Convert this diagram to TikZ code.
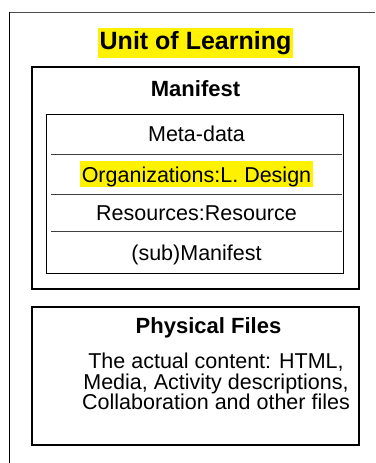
\documentclass[tikz,border=0pt]{standalone}
\usepackage{fontspec}
\setmainfont{Liberation Sans}
\usetikzlibrary{positioning}

\newcommand{\hilite}[1]{{\setlength{\fboxsep}{0pt}\colorbox{yellow}{\rule[-5pt]{0pt}{26pt}\hspace{1.5pt}#1\hspace{1.5pt}}}}

\begin{document}
\begin{tikzpicture}%
[x=1pt, y=-1pt,%
box/.style={draw, line width=1.2pt, inner sep=0pt, minimum width=327pt},%
row/.style={inner sep=0pt, minimum width=291pt, minimum height=40pt, font=\fontsize{21.5}{24}\selectfont},%
sepline/.style={draw=black!75, line width=0.8pt},%
mark yellow/.style={fill=yellow, inner xsep=1.5pt, inner ysep=0pt, minimum height=30pt}]
\useasboundingbox (0,0) rectangle (375,463);
% frame of the page, only two edges show
\draw[black!70, line width=0.8pt] (9,12) -- (375,12);
\draw[line width=0.8pt] (9,12) -- (9,463);
\node[mark yellow, font=\bfseries\fontsize{25}{28}\selectfont] (unit) at (195.5,43) {Unit of Learning};
% manifest
\node[box, minimum height=222pt] (manifest) at (195.5,178) {};
\node[font=\bfseries\fontsize{22}{24}\selectfont] (mtitle) at (195.5,88.5) {Manifest};
\node[draw, line width=0.9pt, inner sep=0pt, minimum width=297pt, minimum height=159pt] (inner) at (194.5,193.5) {};
\node[row] (meta) at (196.5,134) {Meta-data};
\node[row, below=0pt of meta] (org) {\hilite{Organizations:L.~Design}};
\node[row, below=0pt of org, minimum height=36pt] (res) {Resources:Resource};
\node[row, below=0pt of res, minimum height=43pt, yshift=-2pt] (sub) {(sub)Manifest};
\draw[sepline] (meta.south west) -- (meta.south east);
\draw[sepline] (org.south west) -- (org.south east);
\draw[sepline] (res.south west) -- (res.south east);
% files
\node[box, minimum height=138pt] (files) at (195.5,376) {};
\node[font=\bfseries\fontsize{22}{24}\selectfont] (ftitle) at (208.5,327.5) {Physical Files};
\node[align=center, inner sep=0pt, font=\fontsize{21.5}{20.8}\selectfont] (content) at (216,381.5)
  {The actual content: HTML,\\Media, Activity descriptions,\\Collaboration and other files};
\end{tikzpicture}
\end{document}
